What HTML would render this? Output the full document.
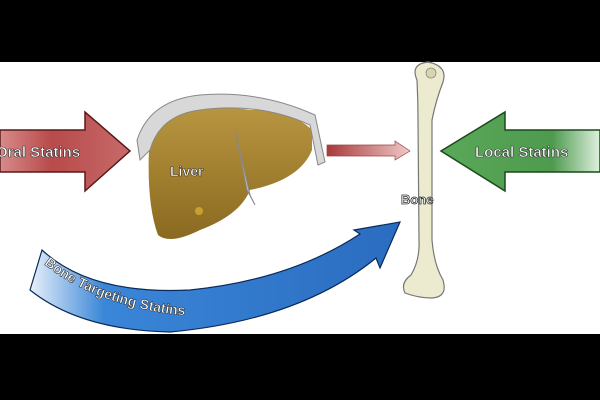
<!DOCTYPE html>
<html><head><style>
html,body{margin:0;padding:0;width:600px;height:400px;overflow:hidden;background:#000}
svg{display:block}
</style></head><body>
<svg width="600" height="400" viewBox="0 0 600 400" xmlns="http://www.w3.org/2000/svg">
<defs>
<linearGradient id="red" x1="0" x2="1"><stop offset="0" stop-color="#d88a8a"/><stop offset="0.4" stop-color="#b84a4a"/><stop offset="1" stop-color="#c86a6a"/></linearGradient>
<linearGradient id="green" x1="0" x2="1"><stop offset="0" stop-color="#5aa85a"/><stop offset="0.7" stop-color="#4e9a4e"/><stop offset="1" stop-color="#dff0df"/></linearGradient>
<linearGradient id="small" x1="0" x2="1"><stop offset="0" stop-color="#a83a3a"/><stop offset="1" stop-color="#f0c8c8"/></linearGradient>
<linearGradient id="blue" x1="0" y1="0" x2="1" y2="0"><stop offset="0" stop-color="#e8f0fa"/><stop offset="0.2" stop-color="#3a86d8"/><stop offset="1" stop-color="#2a6cc0"/></linearGradient>
<linearGradient id="liv" x1="0" y1="0" x2="0" y2="1"><stop offset="0" stop-color="#b89540"/><stop offset="1" stop-color="#8a6a20"/></linearGradient>
</defs>
<rect x="0" y="62" width="600" height="272" fill="#fff"/>
<path d="M0 130 H85 V112 L130 151 L85 191 V172 H0 Z" fill="url(#red)" stroke="#5a1a1a" stroke-width="1.5"/>
<text x="-4" y="157" font-family="Liberation Sans,sans-serif" font-weight="bold" font-size="15" fill="#fff" stroke="#333" stroke-width="0.6">Oral Statins</text>
<path d="M150 130 Q190 100 250 110 Q290 108 312 130 L312 150 Q300 180 250 190 Q240 215 200 230 Q170 245 158 235 Q145 200 150 130 Z" fill="url(#liv)"/>
<path d="M137 140 Q150 100 200 95 Q260 90 315 115 L325 162 L318 165 L310 125 Q260 102 200 110 Q160 115 150 150 L140 160 Z" fill="#d8d8d8" stroke="#888" stroke-width="1"/>
<path d="M235 130 L250 195 L255 205 L247 190 Z" fill="#ccc" stroke="#888"/>
<circle cx="199" cy="211" r="4" fill="#c8a030"/>
<text x="170" y="176" font-family="Liberation Sans,sans-serif" font-weight="bold" font-size="14" fill="#fff" stroke="#333" stroke-width="0.6">Liver</text>
<path d="M327 145 H395 V141 L410 151 L395 160 V156 H327 Z" fill="url(#small)" stroke="#944" stroke-width="0.7"/>
<path d="M417 80 Q410 64 428 62 Q448 66 443 82 Q436 100 432 120 L432 240 Q434 265 443 280 Q448 297 432 298 Q418 298 405 293 Q400 283 411 275 Q420 260 419 240 L418 120 Q418 100 417 80 Z" fill="#ecebcf" stroke="#777" stroke-width="1.2"/>
<circle cx="431" cy="73" r="5" fill="#d8d6b0" stroke="#888" stroke-width="0.8"/>
<text x="401" y="204" font-family="Liberation Sans,sans-serif" font-weight="bold" font-size="13" fill="#fff" stroke="#333" stroke-width="0.8">Bone</text>
<path d="M600 130 H505 V112 L441 151 L505 191 V172 H600 Z" fill="url(#green)" stroke="#1a4a1a" stroke-width="1.5"/>
<text x="475" y="157" font-family="Liberation Sans,sans-serif" font-weight="bold" font-size="15" fill="#fff" stroke="#333" stroke-width="0.6">Local Statins</text>
<path d="M42 250 Q90 295 190 290 Q290 280 360 234 L354 230 L400 222 L380 268 L376 258 Q300 320 170 332 Q80 330 30 290 Z" fill="url(#blue)" stroke="#0a2a5a" stroke-width="1.2"/>
<path id="tp" d="M44 264 Q90 302 170 314 Q230 320 300 302" fill="none"/>
<text font-family="Liberation Sans,sans-serif" font-weight="bold" font-size="14" fill="#fff" stroke="#333" stroke-width="0.6"><textPath href="#tp">Bone Targeting Statins</textPath></text>
</svg>
</body></html>
